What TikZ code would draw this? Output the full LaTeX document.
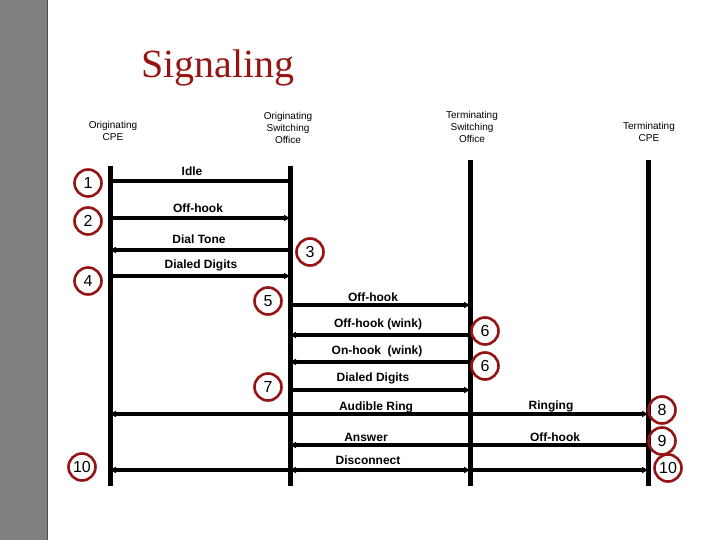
\documentclass[tikz,border=0pt]{standalone}
\usepackage{fontspec}
\setmainfont{Liberation Sans}
\newfontfamily\titlefont{Liberation Serif}
\usetikzlibrary{arrows.meta}
\definecolor{sigred}{RGB}{150,20,20}
\definecolor{bargray}{RGB}{128,128,128}
\tikzset{
  life/.style={line width=5pt},
  msg/.style={line width=3.2pt, -{Triangle[length=6pt,width=6pt]}},
  plain/.style={line width=3.2pt},
  lbl/.style={font=\bfseries\fontsize{12}{13}\selectfont, inner sep=0pt},
  hdr/.style={font=\fontsize{10}{12}\selectfont, align=center, inner sep=0pt},
  stepno/.style={draw=sigred, line width=2.6pt, circle, minimum size=27pt, inner sep=0pt, font=\fontsize{16}{16}\selectfont}
}
\begin{document}
\begin{tikzpicture}[x=1pt,y=-1pt]
  \useasboundingbox (0,0) rectangle (720,540);
  % Fundo e barra lateral
  \fill[bargray] (0,0) rectangle (47,540);
  \draw[line width=1pt, black!70] (47,0) -- (47,540);
  \node[font=\titlefont\fontsize{40}{42}\selectfont, text=sigred] (title) at (218,68) {Signaling};

  % Cabecalhos
  \node[hdr] (hA) at (113,131) {Originating\\CPE};
  \node[hdr] (hB) at (288,128) {Originating\\Switching\\Office};
  \node[hdr] (hC) at (472,127) {Terminating\\Switching\\Office};
  \node[hdr] (hD) at (649,132) {Terminating\\CPE};

  % Linhas de vida
  \coordinate (aT) at (110,166); \coordinate (aB) at (110,486);
  \coordinate (bT) at (290,166); \coordinate (bB) at (290,486);
  \coordinate (cT) at (470,160); \coordinate (cB) at (470,486);
  \coordinate (dT) at (648,160); \coordinate (dB) at (648,486);
  \draw[life] (aT) -- (aB);
  \draw[life] (bT) -- (bB);
  \draw[life] (cT) -- (cB);
  \draw[life] (dT) -- (dB);

  % Pontos das mensagens
  \coordinate (a1) at (110,181); \coordinate (b1) at (290,181);
  \coordinate (a2) at (110,218); \coordinate (b2) at (290,218);
  \coordinate (a3) at (110,250); \coordinate (b3) at (290,250);
  \coordinate (a4) at (110,276); \coordinate (b4) at (290,276);
  \coordinate (b5) at (290,305); \coordinate (c5) at (470,305);
  \coordinate (b6) at (290,335); \coordinate (c6) at (470,335);
  \coordinate (b7) at (290,362); \coordinate (c7) at (470,362);
  \coordinate (b8) at (290,390); \coordinate (c8) at (470,390);
  \coordinate (a9) at (110,414); \coordinate (d9) at (648,414);
  \coordinate (b10) at (290,445); \coordinate (d10) at (648,445);
  \coordinate (a11) at (110,470); \coordinate (b11) at (290,470);
  \coordinate (c11) at (470,470); \coordinate (d11) at (648,470);

  % Mensagens
  \draw[plain] (a1) -- (b1);
  \draw[msg] (a2) -- (b2);
  \draw[msg] (b3) -- (a3);
  \draw[msg] (a4) -- (b4);
  \draw[msg] (b5) -- (c5);
  \draw[msg] (c6) -- (b6);
  \draw[msg] (c7) -- (b7);
  \draw[msg] (b8) -- (c8);
  \draw[msg, {Triangle[length=6pt,width=6pt]}-{Triangle[length=6pt,width=6pt]}] (a9) -- (d9);
  \draw[msg] (d10) -- (b10);
  \draw[msg] (b11) -- (a11);
  \draw[msg, {Triangle[length=6pt,width=6pt]}-{Triangle[length=6pt,width=6pt]}] (b11) -- (c11);
  \draw[msg] (c11) -- (d11);

  % Rotulos
  \node[lbl] (l1) at (192,171) {Idle};
  \node[lbl] (l2) at (198,208) {Off-hook};
  \node[lbl] (l3) at (199,239) {Dial Tone};
  \node[lbl] (l4) at (201,265) {Dialed Digits};
  \node[lbl] (l5) at (373,297) {Off-hook};
  \node[lbl] (l6) at (378,324) {Off-hook (wink)};
  \node[lbl] (l7) at (377,351) {On-hook\ \ (wink)};
  \node[lbl] (l8) at (373,378) {Dialed Digits};
  \node[lbl] (l9) at (376,407) {Audible Ring};
  \node[lbl] (l9b) at (551,406) {Ringing};
  \node[lbl] (l10) at (366,437) {Answer};
  \node[lbl] (l10b) at (555,437) {Off-hook};
  \node[lbl] (l11) at (368,460) {Disconnect};

  % Passos
  \node[stepno] (s1) at (88,183) {1};
  \node[stepno] (s2) at (88,221) {2};
  \node[stepno] (s3) at (310,252) {3};
  \node[stepno] (s4) at (88,281) {4};
  \node[stepno] (s5) at (268,301) {5};
  \node[stepno] (s6) at (485,331) {6};
  \node[stepno] (s6b) at (485,366) {6};
  \node[stepno] (s7) at (268,387) {7};
  \node[stepno] (s8) at (662,410) {8};
  \node[stepno] (s9) at (662,441) {9};
  \node[stepno] (s10) at (82,467) {10};
  \node[stepno] (s10b) at (668,468) {10};
\end{tikzpicture}
\end{document}
